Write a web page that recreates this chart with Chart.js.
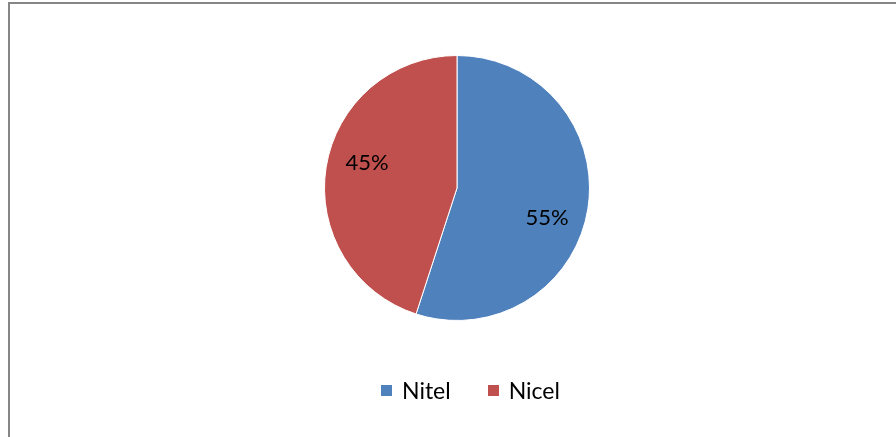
<!DOCTYPE html>
<html lang="en">
<head>
    <meta charset="UTF-8">
    <title>Nitel / Nicel</title>
    <script src="https://cdn.jsdelivr.net/npm/chart.js"></script>
    <style>
        html, body { margin: 0; padding: 0; background: #fff; }
        body { width: 896px; height: 437px; position: relative; overflow: hidden; font-family: Lato, "Open Sans", sans-serif; }
        #frame {
            position: absolute; left: 8px; top: 2px; width: 900px; height: 450px;
            border: 2px solid #868686; box-sizing: border-box;
        }
        #pieChart { position: absolute; left: 0; top: 0; }
        #legend {
            position: absolute; left: 381px; top: 376px;
            display: flex; align-items: center; font-size: 23px; color: #000;
        }
        #legend .item { display: flex; align-items: center; margin-right: 37px; }
        #legend .box { width: 11px; height: 11px; margin-right: 10px; }
    </style>
</head>
<body>
    <div id="frame"></div>
    <canvas id="pieChart" width="896" height="437"></canvas>
    <div id="legend"></div>

    <script>
        const labels = ['Nitel', 'Nicel'];
        const values = [55, 45];
        const colors = ['#4F81BD', '#C0504D'];

        // percentage labels inside slices (Excel style)
        const sliceLabels = {
            id: 'sliceLabels',
            afterDatasetsDraw(chart) {
                const ctx = chart.ctx;
                const total = values.reduce((a, b) => a + b, 0);
                ctx.save();
                ctx.font = '22px Lato, "Open Sans", sans-serif';
                ctx.fillStyle = '#000';
                ctx.textAlign = 'center';
                ctx.textBaseline = 'middle';
                chart.getDatasetMeta(0).data.forEach((arc, i) => {
                    const mid = (arc.startAngle + arc.endAngle) / 2 + 8 * Math.PI / 180;
                    const r = arc.outerRadius * 0.71;
                    const x = arc.x + Math.cos(mid) * r;
                    const y = arc.y + Math.sin(mid) * r + 2;
                    ctx.fillText(Math.round(values[i] / total * 100) + '%', x, y);
                });
                ctx.restore();
            }
        };

        const ctx = document.getElementById('pieChart').getContext('2d');
        const pieChart = new Chart(ctx, {
            type: 'pie',
            data: {
                labels: labels,
                datasets: [{
                    data: values,
                    backgroundColor: colors,
                    borderColor: '#ffffff',
                    borderWidth: 1
                }]
            },
            options: {
                responsive: false,
                animation: false,
                layout: { padding: { top: 55, bottom: 116, left: 18, right: 0 } },
                plugins: {
                    legend: { display: false },
                    tooltip: { enabled: false }
                }
            },
            plugins: [sliceLabels]
        });

        const legendEl = document.getElementById('legend');
        labels.forEach((l, i) => {
            legendEl.innerHTML += `<div class="item"><div class="box" style="background:${colors[i]}"></div><span>${l}</span></div>`;
        });
    </script>
</body>
</html>
